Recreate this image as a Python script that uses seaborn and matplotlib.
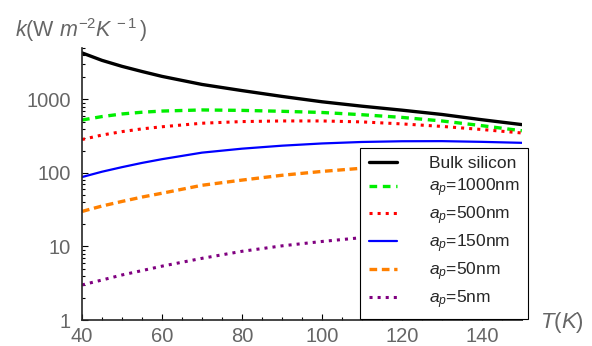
import numpy as np
import pandas as pd
import matplotlib
matplotlib.use("Agg")
import matplotlib.pyplot as plt
import matplotlib.ticker as mticker
import seaborn as sns

# temperature grid (K)
T = [40, 45, 50, 55, 60, 70, 80, 90, 100, 110, 120, 130, 140, 150]

# thermal conductance k (W m^-2 K^-1)
k_bulk = [4300, 3400, 2820, 2400, 2060, 1600, 1320, 1100, 930, 810, 715, 625, 530, 455]
k_1000 = [525, 585, 635, 670, 695, 720, 710, 690, 665, 620, 570, 510, 440, 375]
k_500 = [285, 328, 365, 398, 425, 475, 500, 510, 510, 495, 465, 430, 390, 350]
k_150 = [88, 104, 120, 137, 154, 189, 214, 235, 252, 264, 270, 271, 265, 257]
k_50 = [30, 35.5, 41, 47, 53, 68, 80, 93, 105, 116, 127, 138, 148, 157]
k_5 = [3.0, 3.5, 4.1, 4.7, 5.4, 6.9, 8.6, 10.2, 11.7, 13.2, 14.8, 16.3, 17.8, 19.2]

labels = ["Bulk silicon", r"$a_p$=1000nm", r"$a_p$=500nm",
          r"$a_p$=150nm", r"$a_p$=50nm", r"$a_p$=5nm"]
series = [k_bulk, k_1000, k_500, k_150, k_50, k_5]
colors = ["black", "#00ee00", "#ff0000", "#0000ff", "#ff8000", "#800080"]
styles = ["-", (0, (2.3, 1.7)), ":", "-", (0, (2.3, 1.4)), ":"]
widths = [2.4, 2.4, 2.2, 1.6, 2.4, 2.2]

sns.set_style("ticks")
plt.rcParams["font.family"] = ["Liberation Sans", "DejaVu Sans"]
plt.rcParams["mathtext.fontset"] = "custom"
plt.rcParams["mathtext.rm"] = "Liberation Sans"
plt.rcParams["mathtext.it"] = "Liberation Sans:italic"

fig = plt.figure(figsize=(5.92, 3.46), dpi=100)
ax = fig.add_axes([0.1385, 0.0751, 0.743, 0.786])

for vals, lab, c, ls, lw in zip(series, labels, colors, styles, widths):
    df = pd.DataFrame({"T": T, "k": vals})
    sns.lineplot(data=df, x="T", y="k", color=c, linestyle=ls, lw=lw,
                 label=lab, ax=ax)

ax.set_yscale("log")
ax.set_xlim(40, 150)
ax.set_ylim(1, 5000)
ax.xaxis.set_major_locator(mticker.MultipleLocator(20))
ax.xaxis.set_minor_locator(mticker.MultipleLocator(5))
ax.yaxis.set_major_locator(mticker.FixedLocator([1, 10, 100, 1000]))
ax.yaxis.set_major_formatter(mticker.FixedFormatter(["1", "10", "100", "1000"]))
ax.yaxis.set_minor_locator(mticker.LogLocator(subs=np.arange(2, 10)))
ax.yaxis.set_minor_formatter(mticker.NullFormatter())
ax.tick_params(which="both", direction="in", colors="black", labelcolor="#666666",
               labelsize=14.5, width=0.8)
ax.tick_params(which="major", length=4)
ax.tick_params(which="minor", length=2)
ax.tick_params(axis="y", which="major", pad=8)
ax.tick_params(axis="x", which="major", pad=5)
ax.set_xlabel("")
ax.set_ylabel("")
for side in ["top", "right"]:
    ax.spines[side].set_visible(False)
for side in ["left", "bottom"]:
    ax.spines[side].set_linewidth(1.2)

fig.text(0.025, 0.913, r"$k$(W $m^{-2}K^{\,-1}\,$)", fontsize=15.5, color="#666666",
         va="center", ha="left")
fig.text(0.912, 0.069, r"$T$($K$)", fontsize=16, color="#666666",
         va="center", ha="left")

leg = ax.legend(loc="lower right", bbox_to_anchor=(1.014, 0.003), fontsize=12.5,
                frameon=True, fancybox=False, framealpha=1, edgecolor="black",
                handlelength=1.65, handletextpad=1.8, labelspacing=0.3,
                borderpad=0.5, borderaxespad=0.0)
leg.get_frame().set_linewidth(0.8)

plt.savefig("out.png", dpi=100)
